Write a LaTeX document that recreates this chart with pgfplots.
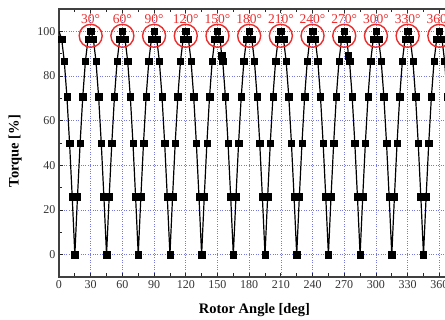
\documentclass[border=0pt]{standalone}
\usepackage{pgfplots}
\pgfplotsset{compat=1.18}
\usepackage{pgfplotstable}
\usepackage{fontspec}
\setmainfont{Liberation Serif}
\definecolor{gridblue}{RGB}{120,120,225}
\definecolor{lblred}{RGB}{235,45,45}

\pgfplotstableread{
x y
0 100
2.5 96.6
5 86.6
7.5 70.7
10 50
12.5 25.9
15 0
17.5 25.9
20 50
22.5 70.7
25 86.6
27.5 96.6
30 100
32.5 96.6
35 86.6
37.5 70.7
40 50
42.5 25.9
45 0
47.5 25.9
50 50
52.5 70.7
55 86.6
57.5 96.6
60 100
62.5 96.6
65 86.6
67.5 70.7
70 50
72.5 25.9
75 0
77.5 25.9
80 50
82.5 70.7
85 86.6
87.5 96.6
90 100
92.5 96.6
95 86.6
97.5 70.7
100 50
102.5 25.9
105 0
107.5 25.9
110 50
112.5 70.7
115 86.6
117.5 96.6
120 100
122.5 96.6
125 86.6
127.5 70.7
130 50
132.5 25.9
135 0
137.5 25.9
140 50
142.5 70.7
145 86.6
147.5 96.6
150 100
152.5 96.6
154 89
155 86.6
157.5 70.7
160 50
162.5 25.9
165 0
167.5 25.9
170 50
172.5 70.7
175 86.6
177.5 96.6
180 100
182.5 96.6
185 86.6
187.5 70.7
190 50
192.5 25.9
195 0
197.5 25.9
200 50
202.5 70.7
205 86.6
207.5 96.6
210 100
212.5 96.6
215 86.6
217.5 70.7
220 50
222.5 25.9
225 0
227.5 25.9
230 50
232.5 70.7
235 86.6
237.5 96.6
240 100
242.5 96.6
245 86.6
247.5 70.7
250 50
252.5 25.9
255 0
257.5 25.9
260 50
262.5 70.7
265 86.6
267.5 96.6
270 100
272.5 96.6
274 89
275 86.6
277.5 70.7
280 50
282.5 25.9
285 0
287.5 25.9
290 50
292.5 70.7
295 86.6
297.5 96.6
300 100
302.5 96.6
305 86.6
307.5 70.7
310 50
312.5 25.9
315 0
317.5 25.9
320 50
322.5 70.7
325 86.6
327.5 96.6
330 100
332.5 96.6
335 86.6
337.5 70.7
340 50
342.5 25.9
345 0
347.5 25.9
350 50
352.5 70.7
355 86.6
357.5 96.6
360 100
362.5 96.6
365 86.6
367.5 70.7
370 50
}\torque

\pgfplotstableread{
x y lab
30 98 30°
60 98 60°
90 98 90°
120 98 120°
150 98 150°
180 98 180°
210 98 210°
240 98 240°
270 98 270°
300 98 300°
330 98 330°
360 98 360°
}\peaks

\begin{document}
\begin{tikzpicture}
\useasboundingbox (-59pt,-43pt) rectangle (386pt,277pt);
\clip (-59pt,-43pt) rectangle (386pt,277pt);
\begin{axis}[
  scale only axis,
  width=390.9pt, height=268pt,
  xmin=0, xmax=370, ymin=-10, ymax=110,
  xtick={0,30,...,360},
  ytick={0,20,...,100},
  minor x tick num=1,
  minor y tick num=1,
  tick align=inside,
  major tick length=4pt,
  minor tick length=3.5pt,
  axis line style={line width=1.1pt, black!75},
  every tick/.style={black!85, line width=0.8pt},
  grid=major,
  major grid style={dotted, gridblue, line width=0.6pt},
  ticklabel style={font=\fontsize{12}{12}\selectfont, black!80},
  /pgf/number format/assume math mode=true,
  xlabel={\textbf{Rotor Angle [deg]}},
  ylabel={\textbf{Torque [\%]}},
  label style={font=\fontsize{14.5}{14.5}\selectfont},
  xlabel style={at={(axis description cs:0.5,-0.123)}, anchor=center},
  ylabel style={at={(axis description cs:-0.112,0.47)}, anchor=center, rotate=0},
]
\addplot[black, line width=1.2pt, no marks] table[x=x,y=y] {\torque};
\addplot[black, only marks, mark=square*, mark size=3.2pt, skip coords between index={0}{1}] table[x=x,y=y] {\torque};
\addplot[only marks, mark=o, mark size=11.5pt, mark options={lblred, line width=1.4pt},
  point meta=explicit symbolic,
  nodes near coords,
  every node near coord/.append style={anchor=base, yshift=12pt, text=lblred, font=\fontsize{13.5}{13.5}\selectfont, inner sep=0pt}
] table[x=x,y=y,meta=lab] {\peaks};
\end{axis}
\end{tikzpicture}
\end{document}
